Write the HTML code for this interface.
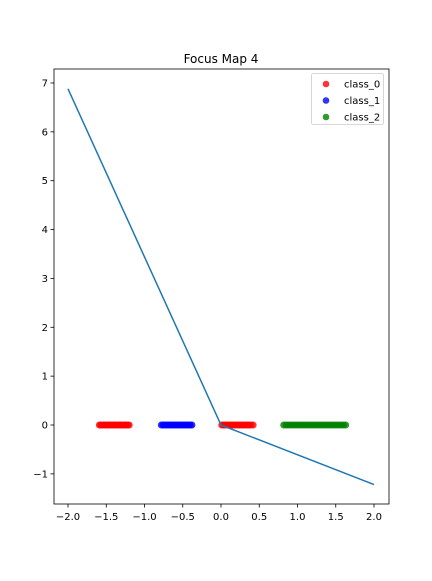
<!DOCTYPE html>
<html><head><meta charset="utf-8"><style>
body{margin:0;background:#fff;font-family:"Liberation Sans","DejaVu Sans",sans-serif}
svg text{font-family:"DejaVu Sans","Liberation Sans",sans-serif}
</style></head><body>
<svg id="c" width="432" height="576" xmlns="http://www.w3.org/2000/svg"></svg>
<script>
const xTicks=[-2.0,-1.5,-1.0,-0.5,0.0,0.5,1.0,1.5,2.0];
const yTicks=[-1,0,1,2,3,4,5,6,7];
const lineX=[-2,0,2];
const lineY=[6.88,0,-1.22];
const class0X=[-1.59,-1.57,-1.55,-1.53,-1.52,-1.50,-1.48,-1.46,-1.45,-1.43,-1.41,-1.39,-1.38,-1.36,-1.34,-1.32,-1.31,-1.29,-1.27,-1.25,-1.24,-1.22,-1.20,0.01,0.03,0.05,0.07,0.09,0.11,0.13,0.15,0.17,0.19,0.21,0.23,0.25,0.27,0.29,0.31,0.33,0.35,0.37,0.39,0.42];
const class1X=[-0.78,-0.76,-0.74,-0.72,-0.70,-0.68,-0.66,-0.64,-0.62,-0.60,-0.58,-0.56,-0.54,-0.52,-0.50,-0.48,-0.46,-0.44,-0.42,-0.40,-0.38];
const class2X=[0.82,0.85,0.88,0.91,0.94,0.97,1.00,1.03,1.06,1.09,1.12,1.15,1.18,1.21,1.24,1.27,1.30,1.33,1.36,1.39,1.42,1.45,1.48,1.51,1.54,1.57,1.60,1.63];
const L=54,R=389,T=69,B=504;
const sx=v=>221+v*76.5, sy=v=>425-v*48.86;
const svg=document.getElementById('c');const NS='http://www.w3.org/2000/svg';
function mk(t,a,p){const e=document.createElementNS(NS,t);for(const k in a)e.setAttribute(k,a[k]);(p||svg).appendChild(e);return e;}
let t=mk('text',{x:221,y:63,'text-anchor':'middle','font-size':12});t.textContent='Focus Map 4';


xTicks.forEach(v=>{const x=sx(v);mk('line',{x1:x,x2:x,y1:B,y2:B+3.5,stroke:'#000','stroke-width':0.8});
const e=mk('text',{x:x,y:B+16,'text-anchor':'middle','font-size':10});e.textContent=(v<0?'\u2212':'')+Math.abs(v).toFixed(1);

});
yTicks.forEach(v=>{const y=sy(v);mk('line',{x1:L,x2:L-3.5,y1:y,y2:y,stroke:'#000','stroke-width':0.8});
const e=mk('text',{x:L-6,y:y+3.5,'text-anchor':'end','font-size':10});e.textContent=(v<0?'\u2212':'')+Math.abs(v);

});
function pts(xs,col,name){const g=mk('g',{});


xs.forEach(v=>mk('circle',{cx:sx(v),cy:sy(0),r:3.5,fill:col,'fill-opacity':0.8},g));}
pts(class0X,'#ff0000','series-class-0');
pts(class1X,'#0000ff','series-class-1');
pts(class2X,'#008000','series-class-2');
const ln=mk('polyline',{points:lineX.map((v,i)=>sx(v)+','+sy(lineY[i])).join(' '),fill:'none',stroke:'#1f77b4','stroke-width':1.5});


const fr=mk('rect',{x:L,y:T,width:R-L,height:B-T,fill:'none',stroke:'#000','stroke-width':0.8});


const lg=mk('g',{});


mk('rect',{x:311.5,y:73.5,width:72,height:51,rx:2,fill:'#fff',stroke:'#ccc','stroke-width':0.8},lg);
[['class_0','#ff0000'],['class_1','#0000ff'],['class_2','#008000']].forEach((d,i)=>{const y=84+i*16.5;
mk('circle',{cx:326,cy:y,r:3.3,fill:d[1],'fill-opacity':0.8},lg);
const e=mk('text',{x:344,y:y+3.5,'font-size':10},lg);e.textContent=d[0];

});
</script>
</body></html>
